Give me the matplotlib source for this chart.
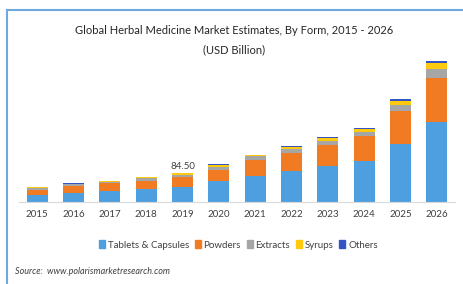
import numpy as np
import matplotlib
matplotlib.use("Agg")
import matplotlib.pyplot as plt
from matplotlib.patches import Patch
from matplotlib.lines import Line2D

plt.rcParams['font.family'] = ['Lato', 'DejaVu Sans']

years = ['2015', '2016', '2017', '2018', '2019', '2020',
         '2021', '2022', '2023', '2024', '2025', '2026']
tablets = [19, 26, 31.5, 38, 42, 60, 74, 88, 104.5, 119, 166, 229.5]
powders = [17, 21, 22, 24, 29, 32.5, 46, 54, 58.5, 70, 96, 129]
extracts = [5, 4, 5, 6, 7.5, 9, 11.5, 9.5, 13.5, 13.5, 17, 26]
syrups = [2, 2, 2.5, 3, 4, 5, 3, 6.5, 8.5, 8.5, 13.5, 17]
others = [1.5, 1, 1, 2, 2, 2.5, 1.5, 2.5, 3, 3, 3.5, 5]

series = [('Tablets & Capsules', tablets, '#4e9fe0'),
          ('Powders', powders, '#f07b22'),
          ('Extracts', extracts, '#a6a6a6'),
          ('Syrups', syrups, '#ffc90e'),
          ('Others', others, '#3355c4')]

W, H = 463, 284
fig = plt.figure(figsize=(W / 100, H / 100), dpi=100)
fig.patch.set_facecolor('white')

# blue frame on left and top
fig.add_artist(Line2D([7 / W, 7 / W], [0, 1 - 10 / H], color='#6fa8dc', lw=1.5))
fig.add_artist(Line2D([7 / W, 1], [1 - 10 / H, 1 - 10 / H], color='#6fa8dc', lw=1.5))

ax = fig.add_axes([19 / W, 82 / H, 436 / W, 156 / H])
x = np.arange(len(years))
bottom = np.zeros(len(years))
for name, vals, col in series:
    ax.bar(x, vals, 0.58, bottom=bottom, color=col, label=name)
    bottom += np.array(vals)

ax.set_xlim(-0.5, 11.5)
ax.set_ylim(0, 450)
ax.set_yticks([])
for s in ['top', 'right', 'left']:
    ax.spines[s].set_visible(False)
ax.spines['bottom'].set_color('#d9d9d9')
ax.set_xticks(x)
ax.set_xticklabels(years, fontsize=7, color='#404040')
ax.tick_params(axis='x', length=0, pad=6)

ax.text(4, bottom[4] + 4, '84.50', ha='center', va='bottom', fontsize=7, color='#404040')

fig.text(0.505, 1 - 31 / H, 'Global Herbal Medicine Market Estimates, By Form, 2015 - 2026',
         ha='center', va='center', fontsize=8, color='#262626')
fig.text(0.505, 1 - 50 / H, '(USD Billion)', ha='center', va='center', fontsize=8, color='#262626')

handles = [Patch(color=c, label=n) for n, v, c in series]
fig.legend(handles=handles, loc='center', bbox_to_anchor=(0.515, 1 - 245 / H), ncol=5,
           frameon=False, fontsize=7, handlelength=0.6, handleheight=0.8,
           handletextpad=0.3, columnspacing=0.6, labelcolor='#404040')

fig.text(15 / W, 1 - 272 / H, 'Source:  www.polarismarketresearch.com', ha='left', va='center',
         fontsize=6.5, style='italic', color='#404040')

fig.savefig('out.png', dpi=100)
